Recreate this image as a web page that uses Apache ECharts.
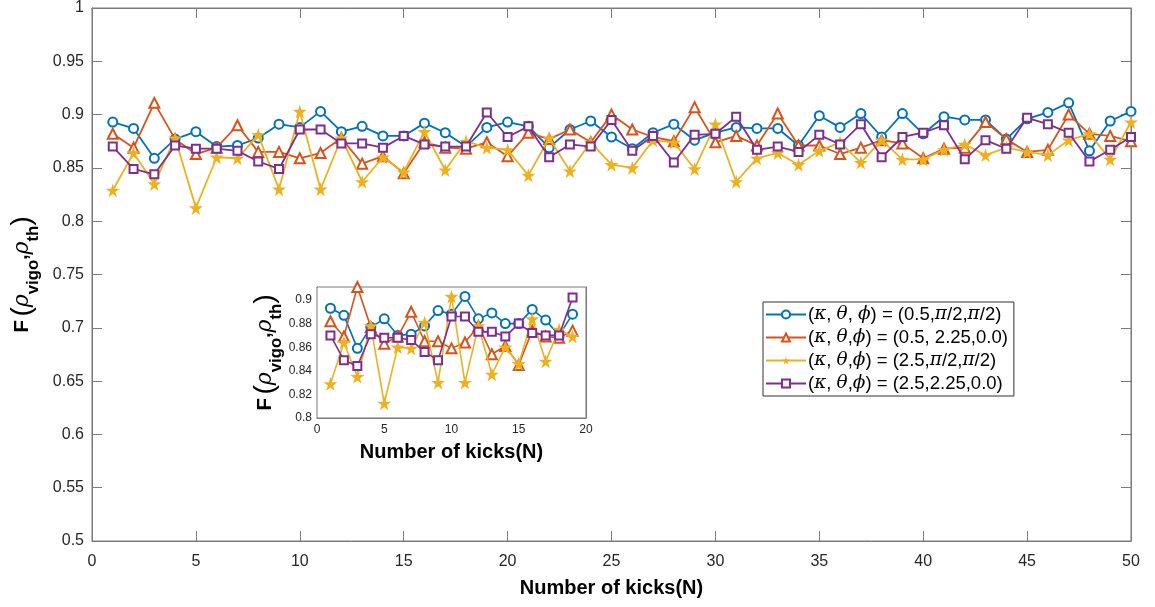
<!DOCTYPE html>
<html>
<head>
<meta charset="utf-8">
<title>Fidelity vs number of kicks</title>
<script src="https://cdn.jsdelivr.net/npm/echarts@6/dist/echarts.min.js"></script>
<style>
  html, body { margin: 0; padding: 0; background: #fff; }
  #chart { width: 1155px; height: 607px; }
</style>
</head>
<body>
<div id="chart"></div>
<script>
// Number of kicks N
const kicks = [1,2,3,4,5,6,7,8,9,10,11,12,13,14,15,16,17,18,19,20,21,22,23,24,25,
               26,27,28,29,30,31,32,33,34,35,36,37,38,39,40,41,42,43,44,45,46,47,48,49,50];

// Fidelity F(rho_vigo, rho_th) for each parameter set
const fidA = [0.893,0.887,0.859,0.877,0.884,0.870,0.871,0.878,0.891,0.888,
              0.903,0.884,0.889,0.880,0.880,0.892,0.883,0.870,0.888,0.893,
              0.889,0.869,0.886,0.894,0.879,0.868,0.883,0.891,0.876,0.883,
              0.888,0.887,0.887,0.871,0.899,0.888,0.901,0.879,0.901,0.882,
              0.898,0.895,0.895,0.877,0.896,0.902,0.911,0.866,0.894,0.903];
const fidB = [0.882,0.869,0.911,0.877,0.863,0.869,0.890,0.865,0.865,0.859,
              0.864,0.878,0.854,0.861,0.845,0.874,0.869,0.868,0.874,0.861,
              0.883,0.877,0.886,0.874,0.900,0.886,0.879,0.875,0.907,0.874,
              0.880,0.871,0.901,0.871,0.871,0.863,0.869,0.876,0.873,0.859,
              0.868,0.869,0.893,0.877,0.865,0.867,0.900,0.882,0.880,0.875];
const fidC = [0.829,0.864,0.835,0.878,0.8125,0.860,0.859,0.881,0.830,0.903,
              0.830,0.878,0.837,0.860,0.846,0.884,0.848,0.875,0.869,0.867,
              0.843,0.878,0.847,0.874,0.853,0.850,0.876,0.874,0.849,0.891,
              0.837,0.859,0.864,0.853,0.866,0.874,0.855,0.876,0.858,0.858,
              0.867,0.872,0.862,0.869,0.865,0.862,0.876,0.882,0.858,0.893];
const fidD = [0.870,0.849,0.844,0.871,0.868,0.868,0.866,0.856,0.849,0.886,
              0.886,0.873,0.873,0.869,0.880,0.872,0.870,0.870,0.902,0.879,
              0.889,0.860,0.872,0.870,0.895,0.866,0.880,0.855,0.881,0.882,
              0.898,0.867,0.870,0.865,0.881,0.872,0.891,0.860,0.879,0.883,
              0.890,0.858,0.876,0.868,0.897,0.891,0.883,0.856,0.867,0.879];

const seriesNames = [
  '(κ, θ, ϕ) = (0.5,π/2,π/2)',
  '(κ, θ,ϕ) = (0.5, 2.25,0.0)',
  '(κ, θ,ϕ) = (2.5,π/2,π/2)',
  '(κ, θ,ϕ) = (2.5,2.25,0.0)'
];
const seriesValues = [fidA, fidB, fidC, fidD];
const seriesColors = ['#0072BD', '#D95319', '#EDB120', '#7E2F8E'];

// Inset shows the first kicks only
const insetCount = 19;

const FONT = '"Liberation Sans", Arial, Helvetica, sans-serif';
const AXIS_GRAY = '#7a7a7a';
const LABEL_COLOR = '#262626';
const STAR = 'path://M50,0 L61,35 L98,35 L68,57 L79,91 L50,70 L21,91 L32,57 L2,35 L39,35 Z';
const symbols = ['emptyCircle', 'emptyTriangle', STAR, 'emptyRect'];
const symbolSizes = [9, 10, 14, 8];

function pairs(values, count) {
  return values.slice(0, count).map((v, i) => [kicks[i], v]);
}

const insetMax = Math.max(...seriesValues.map(s => Math.max(...s.slice(0, insetCount))));

function fidelityName() {
  return '{f|F} {p|(}{r|ρ}{s|vigo}{c|,}{r|ρ}{s|th}{p|)}';
}
function fidelityRich(size) {
  return {
    f: { fontSize: size, fontWeight: 'bold', fontFamily: FONT, color: '#000', verticalAlign: 'middle' },
    p: { fontSize: size * 1.35, fontFamily: FONT, color: '#000', verticalAlign: 'middle', lineHeight: size * 1.9 },
    r: { fontSize: size * 1.05, fontStyle: 'italic', fontFamily: '"DejaVu Serif", serif', color: '#000', verticalAlign: 'middle' },
    s: { fontSize: size * 0.8, fontWeight: 'bold', fontFamily: FONT, color: '#000', verticalAlign: 'bottom' },
    c: { fontSize: size * 0.9, fontWeight: 'bold', fontFamily: FONT, color: '#000', verticalAlign: 'middle' }
  };
}

function valueAxis(opts) {
  return Object.assign({
    type: 'value',
    splitLine: { show: false },
    axisLine: { show: true, onZero: false, lineStyle: { color: AXIS_GRAY, width: 1 } },
    axisTick: { show: true, inside: true, length: 10, lineStyle: { color: AXIS_GRAY, width: 1 } },
    axisLabel: { show: true, color: LABEL_COLOR, fontSize: 16, fontFamily: FONT }
  }, opts);
}

const mainX = { min: 0, max: 50, interval: 5 };
const mainY = { min: 0.5, max: 1, interval: 0.05 };
const insX = { min: 0, max: 20, interval: 5 };
const insY = { min: 0.8, max: insetMax, interval: 0.02 };
const insTick = { show: true, inside: true, length: 4, lineStyle: { color: AXIS_GRAY } };

const xAxes = [
  valueAxis(Object.assign({ gridIndex: 0, position: 'bottom',
    axisLabel: { color: LABEL_COLOR, fontSize: 16, fontFamily: FONT, margin: 13 },
    name: 'Number of kicks(N)', nameLocation: 'middle', nameGap: 37,
    nameTextStyle: { fontSize: 20, fontWeight: 'bold', fontFamily: FONT, color: '#000' } }, mainX)),
  valueAxis(Object.assign({ gridIndex: 0, position: 'top', axisLabel: { show: false } }, mainX)),
  valueAxis(Object.assign({ gridIndex: 1, position: 'bottom', axisTick: insTick,
    axisLabel: { color: LABEL_COLOR, fontSize: 12, fontFamily: FONT, margin: 6 },
    name: 'Number of kicks(N)', nameLocation: 'middle', nameGap: 24,
    nameTextStyle: { fontSize: 20, fontWeight: 'bold', fontFamily: FONT, color: '#000' } }, insX)),
  valueAxis(Object.assign({ gridIndex: 1, position: 'top', axisTick: insTick,
    axisLabel: { show: false } }, insX))
];

const yAxes = [
  valueAxis(Object.assign({ gridIndex: 0, position: 'left',
    axisLabel: { color: LABEL_COLOR, fontSize: 16, fontFamily: FONT, margin: 8 },
    name: fidelityName(), nameLocation: 'middle', nameGap: 46, nameRotate: 90,
    nameTextStyle: { rich: fidelityRich(21) } }, mainY)),
  valueAxis(Object.assign({ gridIndex: 0, position: 'right', axisLabel: { show: false } }, mainY)),
  valueAxis(Object.assign({ gridIndex: 1, position: 'left', axisTick: insTick,
    axisLabel: { color: LABEL_COLOR, fontSize: 12, fontFamily: FONT, margin: 5, showMaxLabel: false },
    name: fidelityName(), nameLocation: 'middle', nameGap: 31, nameRotate: 90,
    nameTextStyle: { rich: fidelityRich(21) } }, insY)),
  valueAxis(Object.assign({ gridIndex: 1, position: 'right', axisTick: insTick,
    axisLabel: { show: false } }, insY))
];

function makeSeries(idx, gridAxis, count, lw) {
  return {
    type: 'line',
    name: seriesNames[idx],
    xAxisIndex: gridAxis * 2,
    yAxisIndex: gridAxis * 2,
    data: pairs(seriesValues[idx], count),
    symbol: symbols[idx],
    symbolSize: symbolSizes[idx],
    showAllSymbol: true,
    lineStyle: { color: seriesColors[idx], width: lw },
    itemStyle: idx === 2
      ? { color: seriesColors[idx], borderColor: seriesColors[idx], borderWidth: 0 }
      : { color: seriesColors[idx], borderColor: seriesColors[idx], borderWidth: 1.4 },
    emphasis: { disabled: true },
    animation: false,
    z: 3 + idx
  };
}

const series = [];
for (let i = 0; i < 4; i++) series.push(makeSeries(i, 0, kicks.length, 1.8));
for (let i = 0; i < 4; i++) series.push(makeSeries(i, 1, insetCount, 1.6));

const legendRich = { g: { fontStyle: 'italic', fontSize: 18.5, fontFamily: '"DejaVu Serif", serif', color: '#000' } };

const option = {
  backgroundColor: '#fff',
  animation: false,
  grid: [
    { left: 89, top: 8, width: 1042, height: 533, show: true, borderColor: AXIS_GRAY, borderWidth: 1 },
    { left: 317, top: 287, width: 269, height: 131, show: true, backgroundColor: '#fff',
      borderColor: AXIS_GRAY, borderWidth: 1, z: 1 }
  ],
  xAxis: xAxes,
  yAxis: yAxes,
  legend: {
    data: seriesNames,
    orient: 'vertical',
    left: 763,
    top: 302,
    itemWidth: 40,
    itemHeight: 10,
    itemGap: 4,
    padding: [3, 6, 3, 2],
    borderColor: '#333',
    borderWidth: 1,
    backgroundColor: '#fff',
    selectedMode: false,
    textStyle: { fontSize: 18.5, fontFamily: FONT, color: '#000', padding: [0, 0, 0, -3], rich: legendRich },
    formatter: name => name.replace(/([κθϕπ])/g, '{g|$1}')
  },
  series: series
};

const chart = echarts.init(document.getElementById('chart'), null, { renderer: 'canvas' });
chart.setOption(option);
</script>
</body>
</html>
